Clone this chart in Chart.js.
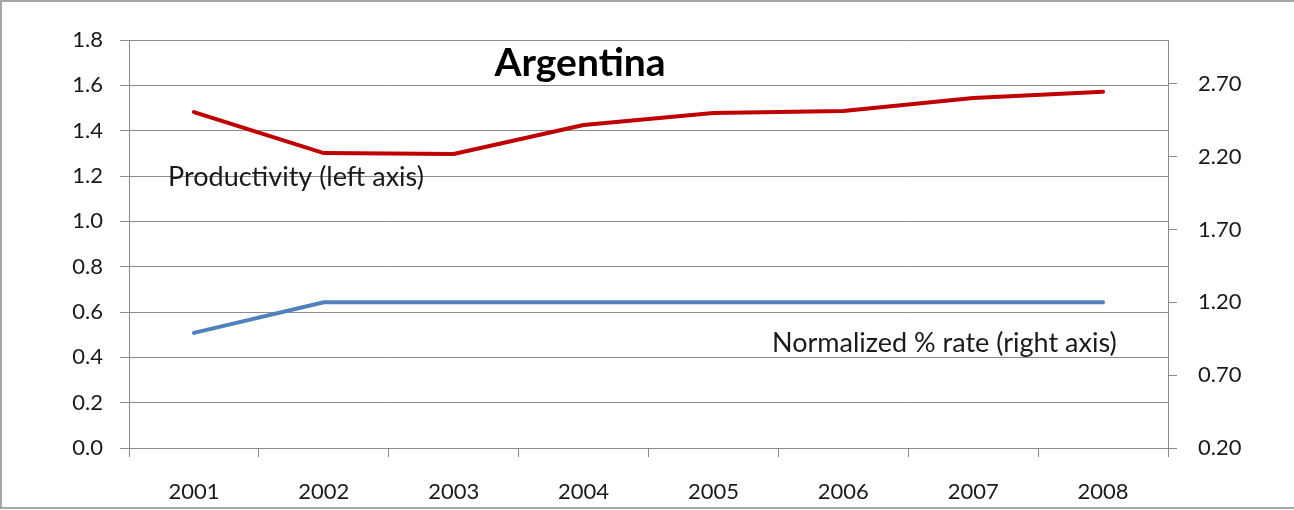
<!DOCTYPE html>
<html>
<head>
<meta charset="utf-8">
<script src="https://cdn.jsdelivr.net/npm/chart.js@4/dist/chart.umd.min.js"></script>
<style>
  html, body { margin: 0; padding: 0; background: #fff; }
  #wrap { width: 1294px; height: 510px; position: relative; }
</style>
</head>
<body>
<div id="wrap"><canvas id="c" width="1294" height="510"></canvas></div>
<script>
// Argentina: labour productivity vs. normalized interest rate
const years = ['2001', '2002', '2003', '2004', '2005', '2006', '2007', '2008'];
const productivity = [1.482, 1.301, 1.297, 1.425, 1.478, 1.487, 1.544, 1.572];
const normalizedRate = [0.99, 1.2, 1.2, 1.2, 1.2, 1.2, 1.2, 1.2];
const rightTicks = [0.2, 0.7, 1.2, 1.7, 2.2, 2.7];

const FONT = 'Lato, "Open Sans", "Noto Sans", sans-serif';
const GRID = '#8c8c8c';
const TEXT = '#1a1a1a';

// Frame, title and in-plot series notes
const decorations = {
  id: 'decorations',
  afterDraw(chart) {
    const ctx = chart.ctx;
    const a = chart.chartArea;
    ctx.save();
    ctx.strokeStyle = '#a6a6a6';
    ctx.lineWidth = 2;
    ctx.beginPath();
    ctx.moveTo(1294, 1); ctx.lineTo(1, 1); ctx.lineTo(1, 508); ctx.lineTo(1294, 508);
    ctx.stroke();

    ctx.fillStyle = '#000';
    ctx.textBaseline = 'middle';
    ctx.textAlign = 'center';
    ctx.font = 'bold 39px ' + FONT;
    ctx.fillText('Argentina', a.left + 451, a.top + 23);

    ctx.fillStyle = TEXT;
    ctx.font = '27px ' + FONT;
    ctx.textAlign = 'left';
    ctx.fillText('Productivity (left axis)', a.left + 39, a.top + 137);
    ctx.fillText('Normalized % rate (right axis)', a.left + 643, a.top + 303);
    ctx.restore();
  }
};

new Chart(document.getElementById('c'), {
  type: 'line',
  data: {
    labels: years,
    datasets: [
      {
        label: 'Productivity (left axis)',
        data: productivity,
        yAxisID: 'y',
        borderColor: '#c00000',
        borderWidth: 4,
        borderCapStyle: 'round',
        borderJoinStyle: 'round',
        pointRadius: 0,
        tension: 0,
        fill: false
      },
      {
        label: 'Normalized % rate (right axis)',
        data: normalizedRate,
        yAxisID: 'y1',
        borderColor: '#4f81bd',
        borderWidth: 4,
        borderCapStyle: 'round',
        borderJoinStyle: 'round',
        pointRadius: 0,
        tension: 0,
        fill: false
      }
    ]
  },
  options: {
    responsive: false,
    animation: false,
    devicePixelRatio: 1,
    layout: { padding: { top: 40, left: 0, right: 0, bottom: 0 } },
    plugins: {
      legend: { display: false },
      title: { display: false },
      tooltip: { enabled: false }
    },
    scales: {
      x: {
        type: 'category',
        offset: true,
        grid: {
          offset: true,
          drawOnChartArea: false,
          drawTicks: true,
          tickLength: 9,
          color: GRID,
          lineWidth: 1
        },
        border: { display: true, color: GRID, width: 1 },
        ticks: {
          color: TEXT,
          font: { family: FONT, size: 22 },
          padding: 22,
          maxRotation: 0
        },
        afterFit(s) { s.height = 62; }
      },
      y: {
        position: 'left',
        min: 0,
        max: 1.8,
        ticks: {
          stepSize: 0.2,
          color: TEXT,
          font: { family: FONT, size: 22 },
          padding: 17,
          callback: v => Number(v).toFixed(1)
        },
        grid: {
          color: GRID,
          lineWidth: 1,
          drawTicks: true,
          tickLength: 9
        },
        border: { display: true, color: GRID, width: 1 },
        afterFit(s) { s.width = 129; }
      },
      y1: {
        position: 'right',
        min: 0.2,
        max: 3.0,
        afterBuildTicks(s) { s.ticks = rightTicks.map(v => ({ value: v })); },
        ticks: {
          color: TEXT,
          font: { family: FONT, size: 22 },
          padding: 21,
          callback: v => Number(v).toFixed(2)
        },
        grid: {
          drawOnChartArea: false,
          drawTicks: true,
          tickLength: 9,
          color: GRID,
          lineWidth: 1
        },
        border: { display: true, color: GRID, width: 1 },
        afterFit(s) { s.width = 126; }
      }
    }
  },
  plugins: [decorations]
});
</script>
</body>
</html>
